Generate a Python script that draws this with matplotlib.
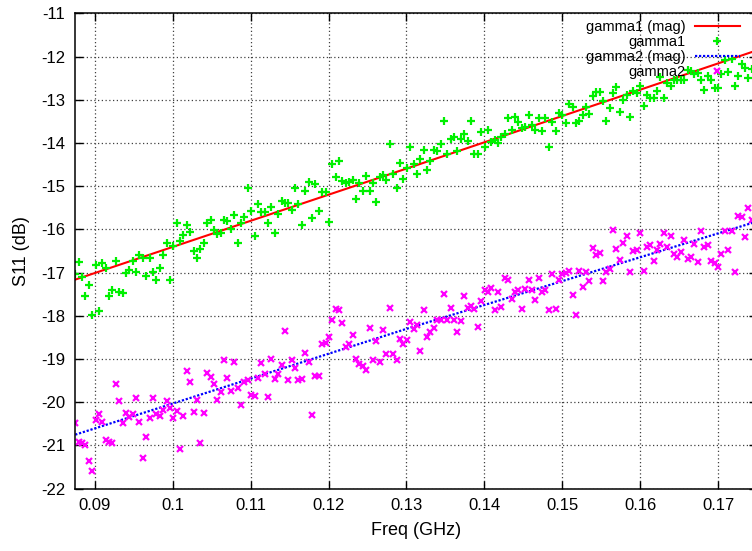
import numpy as np
import matplotlib
matplotlib.use('Agg')
import matplotlib.pyplot as plt

plt.rcParams['font.family'] = ['Liberation Sans', 'DejaVu Sans']
plt.rcParams['axes.unicode_minus'] = False

# frequency sweep (GHz), same grid for both measured series
f_start, f_stop, n_points = 0.0875, 0.1743, 201

gamma1 = [
    -17.02, -16.76, -17.10, -17.53, -17.29, -17.97, -16.83, -17.89, -16.77, -16.90, -17.54,
    -17.39, -16.73, -17.44, -17.48, -17.00, -16.94, -16.74, -16.98, -16.60, -16.65,
    -17.08, -16.67, -16.98, -17.16, -16.90, -16.59, -16.32, -17.16, -16.39, -15.85,
    -16.26, -16.12, -15.90, -16.05, -16.49, -16.67, -16.46, -16.32, -15.86,
    -15.77, -16.02, -16.10, -16.08, -15.77, -15.80, -16.00, -15.67, -16.31, -15.86,
    -15.71, -15.05, -15.57, -16.16, -15.42, -15.59, -15.59, -15.86, -15.48,
    -16.08, -15.65, -15.34, -15.39, -15.39, -15.54, -15.05, -15.42, -15.90, -15.11,
    -14.90, -15.73, -14.95, -15.57, -15.13, -15.13, -15.83, -14.48, -14.78,
    -14.42, -14.88, -14.93, -14.90, -14.86, -15.29, -14.93, -15.10, -14.77, -15.10,
    -14.93, -15.37, -14.79, -14.73, -14.85, -14.02, -14.71, -15.03, -14.46,
    -14.83, -14.57, -14.08, -14.48, -14.71, -14.36, -14.15, -14.62, -14.42, -14.15,
    -14.19, -14.02, -13.49, -14.25, -13.90, -13.85, -14.19, -13.90, -13.78,
    -13.94, -13.49, -14.25, -14.25, -13.75, -14.08, -13.69, -13.98, -13.93, -14.00,
    -13.85, -13.80, -13.42, -13.69, -13.39, -13.52, -13.65, -13.62, -13.36, -13.57,
    -13.69, -13.42, -13.71, -13.42, -14.08, -13.52, -13.73, -13.31, -13.36, -13.54,
    -13.09, -13.17, -13.54, -13.48, -13.36, -13.17, -13.32, -12.90, -12.82,
    -12.82, -13.03, -13.49, -13.19, -12.85, -12.71, -13.29, -13.00, -12.88, -13.40,
    -12.80, -12.85, -12.67, -13.13, -12.88, -12.95, -12.95, -12.80, -12.48, -12.95,
    -12.61, -12.67, -12.54, -12.55, -12.55, -12.54, -12.30, -12.34, -12.40, -12.38,
    -12.55, -12.77, -12.44, -12.55, -12.72, -12.72, -12.40, -12.07, -12.36, -12.05,
    -12.67, -12.45, -12.18, -12.26, -12.49, -12.28,
]

# measured S11 of gamma2 (dB)
gamma2 = [
    -20.48, -20.92, -20.95, -20.98, -21.35, -21.59, -20.40, -20.27, -20.46, -20.88, -20.93,
    -20.95, -19.58, -19.97, -20.48, -20.24, -20.34, -20.27, -19.90, -20.45, -21.28,
    -20.81, -20.37, -19.89, -20.26, -20.32, -20.17, -19.97, -20.14, -20.37, -20.20,
    -21.07, -20.32, -19.28, -19.53, -20.22, -19.94, -20.95, -20.24, -19.33,
    -19.41, -19.58, -19.95, -19.76, -19.03, -19.43, -19.74, -19.07, -19.68, -20.07,
    -19.53, -19.48, -19.84, -19.86, -19.43, -19.09, -19.35, -19.88, -18.99,
    -19.45, -19.34, -19.14, -18.35, -19.49, -19.01, -19.20, -19.49, -19.45, -18.86,
    -19.07, -20.30, -19.40, -19.38, -18.66, -18.63, -18.50, -18.09, -17.83,
    -17.87, -18.17, -18.71, -18.65, -18.45, -18.99, -19.11, -19.15, -19.25, -18.27,
    -19.02, -18.58, -19.07, -18.32, -18.89, -17.81, -18.89, -19.02, -18.53,
    -18.65, -18.55, -18.14, -18.30, -18.20, -18.81, -17.87, -18.48, -18.38, -18.27,
    -18.10, -18.09, -17.49, -18.10, -17.81, -18.09, -18.38, -18.12, -17.55,
    -17.81, -17.78, -17.84, -18.26, -17.65, -17.40, -17.45, -17.35, -17.86, -17.45,
    -17.80, -17.12, -17.18, -17.61, -17.45, -17.41, -17.84, -17.38, -17.18, -17.40,
    -17.63, -17.12, -17.45, -17.41, -17.86, -17.04, -17.84, -17.17, -17.04, -17.01,
    -16.95, -17.51, -17.97, -16.95, -17.34, -16.99, -17.20, -16.43, -16.60,
    -16.55, -17.20, -16.99, -16.91, -16.02, -16.45, -16.70, -16.32, -16.14, -16.99,
    -16.49, -16.47, -16.09, -16.95, -16.40, -16.35, -16.73, -16.47, -16.33, -16.09,
    -16.41, -16.16, -16.56, -16.63, -16.53, -16.24, -16.68, -16.64, -16.33, -16.76,
    -16.04, -16.40, -16.37, -16.73, -16.78, -16.87, -16.56, -16.04, -16.47, -16.04,
    -16.99, -15.68, -15.70, -16.18, -15.50, -15.79,
]

# magnitude fits, read at a few frequencies
mag_freq = [0.0875, 0.13, 0.1745]
gamma1_mag = [-17.16, -14.59, -11.88]
gamma2_mag = [-20.75, -18.30, -15.84]

xtick_vals = [0.09, 0.10, 0.11, 0.12, 0.13, 0.14, 0.15, 0.16, 0.17]
xtick_labels = ['0.09', '0.1', '0.11', '0.12', '0.13', '0.14', '0.15', '0.16', '0.17']
ytick_vals = list(range(-22, -10))

freq = np.linspace(f_start, f_stop, n_points)

fig = plt.figure(figsize=(7.52, 5.51), dpi=100)
# right edge of the frame falls just outside the picture, as in the original
ax = fig.add_axes([0.0997, 0.1131, 0.9073, 0.8624])

ax.plot(mag_freq, gamma1_mag, color='#ff0000', lw=1.5, label='gamma1 (mag)')
ax.plot(freq, gamma1, linestyle='none', marker='+', color='#00f000',
        markersize=6, markeredgewidth=1.6, label='gamma1')
ax.plot(mag_freq, gamma2_mag, color='#0000ff', lw=1.6, linestyle=(0, (1, 0.8)),
        label='gamma2 (mag)')
ax.plot(freq, gamma2, linestyle='none', marker='x', color='#ff00ff',
        markersize=5, markeredgewidth=1.6, label='gamma2')

ax.set_xlim(0.08747, 0.175)
ax.set_ylim(-22, -11)
ax.set_xticks(xtick_vals)
ax.set_xticklabels(xtick_labels)
ax.set_yticks(ytick_vals)
ax.set_yticklabels([str(v) for v in ytick_vals])

ax.grid(True, color='#404040', linestyle=(0, (1, 2)), linewidth=0.9)
ax.set_axisbelow(True)
ax.tick_params(direction='in', length=6, width=1, top=True, right=True,
               labelsize=12, pad=7)
for s in ax.spines.values():
    s.set_linewidth(1.1)

ax.set_xlabel('Freq (GHz)', fontsize=13, labelpad=6)
ax.set_ylabel('S11 (dB)', fontsize=13, labelpad=8)

ax.legend(loc='upper right', bbox_to_anchor=(740 / 752, 1 - 20 / 551),
          bbox_transform=fig.transFigure, frameon=False, markerfirst=False,
          numpoints=1, fontsize=10.5, handlelength=3.1, handletextpad=0.65,
          labelspacing=0.07, borderpad=0, borderaxespad=0)

fig.savefig('out.png', dpi=100)
